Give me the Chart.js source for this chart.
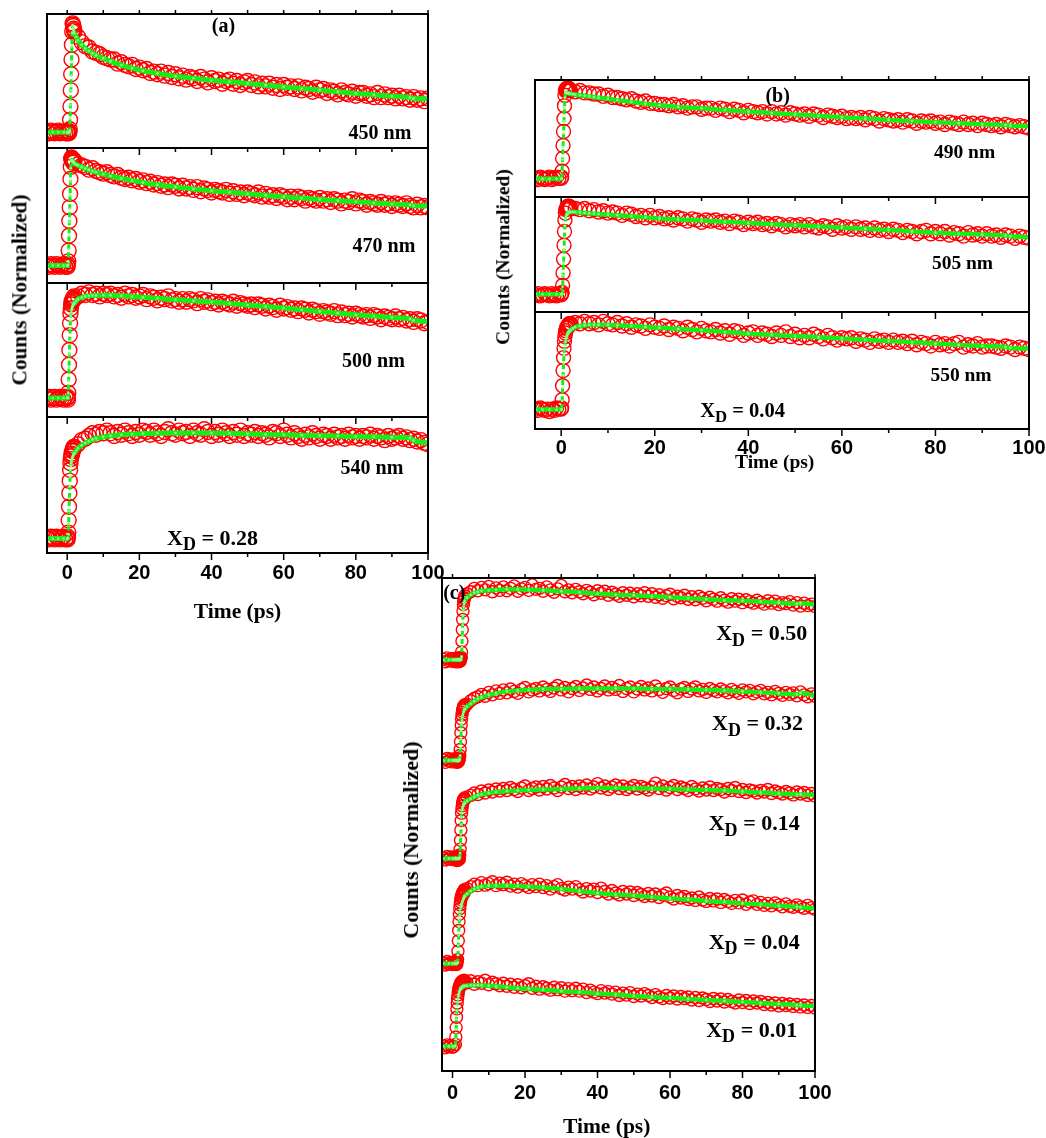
<!DOCTYPE html>
<html>
<head>
<meta charset="utf-8">
<title>Transient decays</title>
<script src="https://cdn.jsdelivr.net/npm/chart.js@4.4.1/dist/chart.umd.min.js"></script>
<style>
  body { margin: 0; background: #fff; }
  #page { position: relative; width: 1046px; height: 1138px; overflow: hidden; background: #fff; }
  #page canvas { position: absolute; z-index: 0; }
  .t { position: absolute; z-index: 1; transform: translate(-50%, -50%); font-family: "Liberation Serif", "Times New Roman", serif;
       font-weight: bold; line-height: 1; white-space: nowrap; color: #000; }
  .t .d { position: relative; top: 0.3em; font-size: 0.82em; }
  .t.rot { transform: translate(-50%, -50%) rotate(-90deg); }
</style>
</head>
<body>
<div id="page">
  <!-- panel (a) -->
  <div class="t" style="left:223.5px;top:25px;font-size:20px">(a)</div>
  <div class="t" style="left:380px;top:132px;font-size:20px">450 nm</div>
  <div class="t" style="left:384px;top:245px;font-size:20px">470 nm</div>
  <div class="t" style="left:373.5px;top:360px;font-size:20px">500 nm</div>
  <div class="t" style="left:372px;top:467px;font-size:20px">540 nm</div>
  <div class="t" style="left:212.5px;top:538px;font-size:22px">X<span class="d">D</span> = 0.28</div>
  <div class="t" style="left:237.5px;top:611.5px;font-size:21.5px">Time (ps)</div>
  <div class="t rot" style="left:20px;top:290px;font-size:21.3px">Counts (Normalized)</div>
  <!-- panel (b) -->
  <div class="t" style="left:777.7px;top:95px;font-size:20px">(b)</div>
  <div class="t" style="left:964.6px;top:151.7px;font-size:19.5px">490 nm</div>
  <div class="t" style="left:962.5px;top:263.3px;font-size:19.5px">505 nm</div>
  <div class="t" style="left:961px;top:375px;font-size:19.5px">550 nm</div>
  <div class="t" style="left:742.6px;top:410px;font-size:20.5px">X<span class="d">D</span> = 0.04</div>
  <div class="t" style="left:774.7px;top:462px;font-size:19.5px">Time (ps)</div>
  <div class="t rot" style="left:503px;top:256.7px;font-size:19.6px">Counts (Normalized)</div>
  <!-- panel (c) -->
  <div class="t" style="left:454.3px;top:592.3px;font-size:20px">(c)</div>
  <div class="t" style="left:761.7px;top:633.3px;font-size:22px">X<span class="d">D</span> = 0.50</div>
  <div class="t" style="left:757.5px;top:723.3px;font-size:22px">X<span class="d">D</span> = 0.32</div>
  <div class="t" style="left:754.2px;top:823.3px;font-size:22px">X<span class="d">D</span> = 0.14</div>
  <div class="t" style="left:754.2px;top:941.7px;font-size:22px">X<span class="d">D</span> = 0.04</div>
  <div class="t" style="left:751.7px;top:1030px;font-size:22px">X<span class="d">D</span> = 0.01</div>
  <div class="t" style="left:606.7px;top:1126.7px;font-size:21.5px">Time (ps)</div>
  <div class="t rot" style="left:411px;top:840px;font-size:22px">Counts (Normalized)</div>
</div>
<script>
// sample times (ps) for panels (a) and (b)
const timeAB = [
  -5.5, -5, -4.5, -4, -3.5, -3, -2.5, -2, -1.5, -1, -0.5,
  0, 0.1, 0.2, 0.3, 0.4, 0.5, 0.6, 0.7, 0.8, 0.9, 1, 1.1, 1.2, 1.3, 1.4, 1.5, 1.6, 1.7, 1.8, 1.9,
  2, 3, 4, 5, 6, 7, 8, 9, 10, 11,
  12, 13, 14, 15, 16, 17, 18, 19, 20, 21,
  22, 23, 24, 25, 26, 27, 28, 29, 30, 31,
  32, 33, 34, 35, 36, 37, 38, 39, 40, 41,
  42, 43, 44, 45, 46, 47, 48, 49, 50, 51,
  52, 53, 54, 55, 56, 57, 58, 59, 60, 61,
  62, 63, 64, 65, 66, 67, 68, 69, 70, 71,
  72, 73, 74, 75, 76, 77, 78, 79, 80, 81,
  82, 83, 84, 85, 86, 87, 88, 89, 90, 91,
  92, 93, 94, 95, 96, 97, 98, 99, 100
];
// times of the fitted curves for panels (a) and (b)
const fitTimeAB = [
  -5.5, -4, -2.5, -1,
  0, 0.1, 0.2, 0.3, 0.4, 0.5, 0.6, 0.7, 0.8, 0.9, 1, 1.1, 1.2, 1.3, 1.4, 1.5, 1.6, 1.7, 1.8, 1.9,
  2, 2.5, 3, 4, 5, 6, 7, 8, 10, 12, 15, 18, 21, 25,
  30, 35, 40, 45, 50, 55, 60, 65, 70, 75, 80, 85, 90, 95, 96, 100
];

// panel (a): measured counts, normalised to each sub-plot
const counts450 = [
  12, 11, 13, 12, 11, 12, 13, 11, 12, 12, 11,
  12, 11, 12, 13, 12, 11, 12, 14, 21, 31, 43, 55, 66, 77, 87, 93, 92, 91, 89, 88,
  87, 83, 79, 76, 75, 72, 71, 70, 68, 67,
  66, 66, 63, 64, 62, 61, 62, 59, 60, 58,
  59, 56, 57, 55, 57, 54, 56, 53, 55, 52,
  54, 51, 53, 52, 50, 53, 51, 49, 52, 50,
  51, 48, 50, 51, 48, 50, 47, 49, 50, 47,
  49, 46, 48, 46, 48, 45, 47, 44, 47, 45,
  46, 44, 46, 43, 45, 44, 42, 45, 43, 44,
  41, 43, 42, 40, 43, 41, 40, 42, 39, 41,
  41, 39, 40, 38, 41, 38, 40, 38, 39, 37,
  39, 37, 38, 36, 38, 36, 37, 35, 37
];
const counts470 = [
  13, 12, 14, 13, 12, 14, 13, 12, 13, 14, 12,
  13, 12, 14, 16, 24, 35, 46, 56, 66, 77, 86, 92, 93, 91, 92, 90, 91, 89, 90, 91,
  90, 88, 87, 86, 84, 85, 83, 82, 81, 82,
  80, 79, 80, 78, 77, 78, 76, 77, 75, 76,
  74, 75, 73, 74, 72, 73, 71, 73, 72, 70,
  72, 70, 71, 69, 71, 68, 70, 69, 67, 69,
  68, 67, 69, 66, 68, 66, 67, 65, 67, 66,
  65, 67, 64, 66, 64, 65, 63, 65, 64, 62,
  64, 62, 64, 63, 61, 63, 62, 61, 63, 61,
  62, 60, 62, 61, 59, 61, 60, 62, 59, 61,
  60, 58, 60, 59, 58, 60, 58, 59, 57, 59,
  58, 57, 59, 57, 56, 58, 56, 57, 56
];
const counts500 = [
  14, 15, 13, 14, 15, 13, 14, 15, 14, 13, 15,
  14, 15, 13, 18, 28, 39, 50, 61, 70, 77, 81, 84, 86, 85, 87, 88, 87, 89, 88, 90,
  88, 90, 92, 91, 93, 91, 92, 90, 92, 91,
  92, 90, 91, 89, 92, 90, 91, 89, 90, 91,
  88, 90, 89, 87, 89, 88, 90, 87, 88, 86,
  88, 86, 88, 87, 85, 88, 86, 87, 85, 86,
  84, 86, 85, 84, 86, 83, 85, 84, 83, 84,
  82, 84, 83, 81, 83, 82, 80, 83, 81, 82,
  80, 81, 79, 81, 80, 78, 80, 79, 77, 79,
  78, 77, 79, 76, 78, 76, 77, 75, 77, 76,
  75, 76, 74, 76, 75, 73, 75, 74, 73, 75,
  73, 74, 72, 73, 71, 73, 72, 70, 71
];
const counts540 = [
  11, 10, 12, 11, 10, 12, 11, 10, 11, 12, 10,
  11, 10, 12, 15, 24, 34, 44, 53, 61, 66, 69, 71, 73, 72, 75, 76, 75, 77, 78, 77,
  78, 80, 83, 84, 86, 88, 87, 89, 88, 90,
  88, 86, 89, 87, 90, 88, 86, 89, 87, 90,
  89, 87, 90, 88, 86, 89, 91, 88, 87, 90,
  88, 89, 86, 90, 88, 87, 91, 89, 86, 89,
  87, 90, 88, 86, 89, 87, 90, 86, 88, 87,
  89, 86, 88, 87, 85, 89, 88, 86, 90, 87,
  85, 88, 86, 84, 87, 85, 88, 86, 84, 87,
  86, 84, 87, 85, 86, 84, 87, 85, 86, 84,
  86, 85, 87, 84, 86, 85, 83, 86, 84, 85,
  86, 84, 85, 83, 84, 82, 83, 81, 80
];
// panel (a): fitted curves
const fit450 = [
  11.7, 11.7, 11.7, 11.7,
  11.7, 11.7, 11.7, 11.7, 11.7, 11.7, 11.8, 13, 22, 32, 43, 54, 65, 76, 86, 91.6, 90.6, 89.4, 88.2, 86.9,
  85.6, 83, 80.5, 77, 74.3, 72.4, 70.7, 69.3, 66.9, 64.8, 61.9, 59.6, 57.6, 55.7,
  53.6, 52, 50.6, 49.4, 48.2, 46.9, 45.6, 44.4, 43.2, 41.9, 40.7, 39.7, 38.7, 37.7, 37, 36.7
];
const fit470 = [
  13, 13, 13, 13,
  13, 13, 13.2, 16, 25, 35, 45, 55, 65, 75, 85, 90.5, 91, 90.8, 90.5, 90.2, 89.9, 89.6, 89.3, 88.9,
  88.5, 87.8, 87.2, 86, 84.8, 83.8, 82.9, 82.1, 80.6, 79.3, 77.5, 76, 74.5, 72.8,
  71.2, 69.7, 68.3, 67.2, 66.1, 65, 63.9, 62.9, 61.9, 61, 60.2, 59.3, 58.5, 57.8, 57.2, 57
];
const fit500 = [
  14.2, 14.2, 14.2, 14.2,
  14.2, 14.2, 14.5, 18, 27, 37, 47, 57, 66, 72, 75.5, 78, 79.6, 80.8, 81.8, 82.6, 83.3, 83.9, 84.4, 84.8,
  85, 86.6, 88, 89.2, 90, 90.4, 90.7, 90.8, 90.9, 90.8, 90.4, 89.9, 89.4, 88.6,
  87.5, 86.7, 85.8, 84.7, 83.6, 82.5, 81.3, 80, 78.8, 77.5, 76.3, 75.3, 74.3, 73.2, 72.2, 71.3
];
const fit540 = [
  10.6, 10.6, 10.6, 10.6,
  10.6, 10.6, 11, 14, 22, 31, 40, 49, 56, 61, 64, 66, 67.5, 68.7, 69.7, 70.6, 71.4, 72.1, 72.7, 73.1,
  73.4, 75.4, 77.1, 79.2, 80.8, 82.2, 83.4, 84.3, 85.4, 86.2, 87, 87.5, 87.8, 88.1,
  88.2, 88.3, 88.2, 88, 87.6, 87.2, 86.9, 86.6, 86.3, 86, 85.7, 85.4, 85.1, 84.6, 82.8, 80.8
];

// panel (b): measured counts
const counts490 = [
  16, 15, 17, 16, 15, 16, 17, 15, 16, 17, 16,
  16, 17, 22, 33, 44, 56, 67, 78, 87, 91, 92, 91, 93, 92, 91, 92, 93, 91, 92, 91,
  91, 90, 91, 89, 89, 88, 88, 86, 87, 85,
  85, 84, 83, 84, 82, 81, 82, 80, 80, 79,
  79, 78, 79, 77, 78, 76, 77, 77, 75, 76,
  76, 74, 76, 75, 73, 75, 74, 72, 74, 73,
  72, 73, 71, 73, 71, 72, 70, 72, 71, 70,
  71, 69, 71, 70, 68, 70, 69, 68, 69, 67,
  68, 67, 68, 66, 68, 67, 65, 67, 66, 65,
  66, 64, 66, 65, 63, 65, 64, 65, 63, 64,
  62, 64, 63, 62, 64, 62, 63, 61, 63, 62,
  61, 62, 60, 62, 61, 60, 61, 60, 59
];
const counts505 = [
  15, 16, 14, 15, 16, 15, 14, 16, 15, 14, 16,
  15, 16, 17, 23, 34, 46, 58, 70, 80, 86, 89, 90, 91, 90, 92, 91, 90, 92, 91, 90,
  91, 90, 89, 90, 88, 89, 87, 88, 86, 87,
  86, 84, 86, 85, 83, 84, 82, 84, 82, 83,
  81, 82, 80, 82, 81, 79, 81, 80, 78, 80,
  79, 80, 78, 79, 77, 79, 78, 76, 78, 77,
  78, 76, 77, 75, 77, 76, 74, 76, 75, 76,
  74, 76, 74, 73, 75, 74, 72, 75, 73, 74,
  72, 74, 72, 73, 71, 73, 71, 72, 70, 72,
  71, 69, 71, 70, 68, 70, 71, 68, 70, 68,
  70, 67, 69, 68, 66, 69, 67, 68, 66, 68,
  66, 67, 65, 67, 66, 64, 66, 65, 64
];
const counts550 = [
  17, 16, 18, 17, 16, 17, 15, 17, 16, 18, 17,
  17, 18, 25, 37, 50, 61, 69, 75, 79, 82, 84, 86, 87, 86, 88, 89, 88, 90, 89, 90,
  90, 91, 90, 92, 90, 91, 89, 92, 90, 89,
  91, 88, 90, 87, 89, 88, 86, 89, 87, 86,
  88, 85, 87, 86, 84, 87, 85, 83, 86, 84,
  83, 85, 82, 84, 81, 84, 83, 80, 82, 83,
  80, 82, 81, 79, 82, 80, 83, 79, 81, 78,
  80, 78, 81, 79, 77, 80, 78, 76, 78, 77,
  78, 75, 77, 76, 74, 77, 75, 76, 74, 76,
  74, 75, 73, 75, 72, 74, 73, 71, 74, 72,
  73, 71, 73, 74, 70, 72, 71, 73, 70, 71,
  71, 70, 69, 71, 70, 68, 70, 69, 68
];
// panel (b): fitted curves
const fit490 = [
  15.5, 15.5, 15.5, 15.5,
  15.5, 16, 22, 32, 43, 54, 65, 76, 85, 89.2, 89.1, 89, 88.9, 88.9, 88.8, 88.7, 88.6, 88.5, 88.4, 88.3,
  88.2, 87.9, 87.6, 87, 86.5, 86, 85.4, 84.9, 83.9, 82.8, 81.3, 79.8, 78.4, 77,
  75.8, 74.3, 73, 71.8, 70.6, 69.4, 68.2, 67, 65.9, 64.9, 63.9, 63, 62.2, 61.5, 61, 60.7
];
const fit505 = [
  15.4, 15.4, 15.4, 15.4,
  15.4, 15.4, 16, 22, 32, 43, 54, 65, 75, 81, 83, 84, 84.7, 85.3, 85.8, 86.2, 86.5, 86.7, 86.9, 87,
  87, 87.1, 87, 86.6, 86.1, 85.8, 85.5, 85.2, 84.7, 84.1, 83.2, 82.3, 81.4, 80.4,
  79.5, 78.4, 77.4, 76.4, 75.4, 74.4, 73.4, 72.3, 71.3, 70.1, 69, 68.1, 67.3, 66.6, 65.8, 65.2
];
const fit550 = [
  16.6, 16.6, 16.6, 16.6,
  16.6, 17, 24, 35, 46, 56, 63, 68, 71.5, 74.5, 77, 78.5, 79.7, 80.7, 81.5, 82.2, 82.8, 83.4, 83.9, 84.2,
  84.4, 86, 87.2, 88.1, 88.6, 89, 89.1, 89.2, 89, 88.6, 88, 87.2, 86.5, 85.5,
  84.4, 83, 81.5, 80.5, 79.5, 78.4, 77.3, 76.2, 75.2, 74.1, 73, 71.9, 70.9, 70, 69.3, 68.7
];

// panel (c): sample times (ps)
const timeC = [
  -2.5, -2, -1.5, -1, -0.5, 0, 0.4,
  0.8, 0.9, 1, 1.1, 1.2, 1.3, 1.4, 1.5, 1.6, 1.7, 1.8, 1.9, 2, 2.1, 2.2, 2.3, 2.4,
  2.5, 2.6, 2.7, 2.8, 2.9, 3, 3.1, 3.2, 3.3, 3.4,
  4, 5, 6, 7, 8, 9, 10, 11, 12, 13,
  14, 15, 16, 17, 18, 19, 20, 21, 22, 23,
  24, 25, 26, 27, 28, 29, 30, 31, 32, 33,
  34, 35, 36, 37, 38, 39, 40, 41, 42, 43,
  44, 45, 46, 47, 48, 49, 50, 51, 52, 53,
  54, 55, 56, 57, 58, 59, 60, 61, 62, 63,
  64, 65, 66, 67, 68, 69, 70, 71, 72, 73,
  74, 75, 76, 77, 78, 79, 80, 81, 82, 83,
  84, 85, 86, 87, 88, 89, 90, 91, 92, 93,
  94, 95, 96, 97, 98, 99, 100
];
const fitTimeC = [
  -2.5, -1, 0, 0.4,
  0.8, 0.9, 1, 1.1, 1.2, 1.3, 1.4, 1.5, 1.6, 1.7, 1.8, 1.9, 2, 2.1, 2.2, 2.3, 2.4,
  2.5, 2.6, 2.7, 2.8, 2.9, 3, 3.1, 3.2, 3.3, 3.4,
  4, 5, 6, 7, 8, 10, 12, 15, 18, 21, 25,
  30, 35, 40, 45, 50, 55, 60, 65, 70, 75, 80, 85, 90, 95, 96, 100
];
const mixLabels = ["0.50", "0.32", "0.14", "0.04", "0.01"];
// panel (c): measured counts, stacked in one frame (top trace first)
const countsXD050 = [
  83.5, 83.0, 83.8, 83.2, 83.6, 83.1, 83.7,
  83.4, 83.0, 83.7, 83.2, 83.5, 83.1, 83.8, 83.3, 83.0, 83.6, 83.2, 83.5, 83.8, 83.1, 83.4, 83.7, 83.9,
  85.0, 87.2, 89.5, 91.6, 93.3, 94.6, 95.3, 95.8, 96.0, 96.4,
  96.8, 97.2, 97.9, 97.4, 98.1, 97.6, 98.3, 97.2, 98.0, 97.5,
  98.2, 97.4, 97.9, 98.4, 97.3, 97.8, 98.1, 97.5, 98.6, 97.7,
  97.9, 97.3, 98.2, 97.6, 97.1, 97.8, 98.5, 97.2, 97.6, 97.0,
  97.7, 97.2, 96.8, 97.5, 97.1, 96.6, 97.4, 96.9, 97.3, 96.5,
  97.1, 96.7, 96.3, 97.0, 96.5, 96.9, 96.2, 96.8, 96.4, 97.0,
  96.3, 96.8, 96.1, 96.6, 95.9, 96.4, 96.7, 95.8, 96.3, 96.0,
  96.5, 95.7, 96.2, 95.6, 96.3, 95.9, 95.4, 96.1, 95.7, 95.3,
  96.0, 95.5, 95.1, 95.8, 95.3, 95.7, 95.0, 95.6, 95.2, 94.9,
  95.5, 95.1, 94.7, 95.4, 94.9, 95.3, 94.6, 95.0, 94.8, 95.2,
  94.5, 95.0, 94.3, 94.9, 94.4, 94.7, 94.2
];
const countsXD032 = [
  63.1, 62.6, 63.4, 62.9, 63.3, 62.7, 63.2,
  63.0, 63.4, 62.8, 63.2, 62.6, 63.3, 63.1, 62.7, 63.4, 62.9, 63.2, 63.5,
  64.0, 65.2, 66.8, 68.6, 70.2, 71.4, 72.2, 72.8, 73.2, 73.4, 73.9, 73.6, 74.1, 73.8, 74.3,
  74.4, 75.1, 75.6, 75.9, 76.4, 76.0, 76.8, 76.3, 77.1, 76.6,
  77.3, 76.7, 77.5, 77.0, 76.6, 77.4, 77.8, 76.9, 77.3, 77.6,
  77.1, 77.9, 77.4, 77.0, 77.7, 78.2, 77.3, 77.8, 76.9, 77.6,
  78.0, 77.2, 77.7, 78.3, 77.4, 77.9, 77.1, 77.6, 78.1, 77.3,
  77.8, 77.4, 78.2, 77.0, 77.6, 77.9, 76.9, 77.5, 78.0, 77.3,
  77.7, 77.1, 78.1, 77.4, 76.8, 77.6, 77.9, 77.2, 76.7, 77.5,
  77.8, 77.0, 77.5, 77.9, 77.1, 77.4, 76.8, 77.6, 77.2, 76.9,
  77.5, 77.1, 76.7, 77.4, 77.0, 76.6, 77.3, 76.9, 77.2, 76.5,
  76.9, 77.2, 76.5, 76.8, 76.3, 77.0, 76.6, 76.2, 76.8, 76.4,
  76.7, 76.1, 76.9, 76.3, 75.9, 76.5, 76.0
];
const countsXD014 = [
  43.2, 42.8, 43.5, 43.0, 43.4, 42.9, 43.3,
  43.1, 43.5, 42.9, 43.3, 42.7, 43.4, 43.0, 43.6, 42.8, 43.2, 43.5, 43.0,
  43.8, 45.0, 46.8, 48.9, 50.8, 52.3, 53.2, 53.8, 54.3, 54.6, 54.9, 55.1, 55.0, 55.4, 55.2,
  55.6, 55.9, 56.4, 56.1, 56.8, 56.4, 57.0, 56.6, 57.2, 56.8,
  57.3, 56.9, 57.5, 57.1, 56.7, 57.4, 57.8, 56.9, 57.3, 57.6,
  57.0, 57.7, 57.2, 57.9, 57.4, 56.9, 57.6, 58.1, 57.3, 57.7,
  57.1, 57.8, 57.4, 58.0, 57.2, 57.6, 58.3, 57.4, 57.8, 57.1,
  57.6, 58.0, 57.3, 57.8, 57.1, 57.5, 57.9, 57.2, 57.7, 57.4,
  57.0, 57.6, 58.4, 57.3, 57.8, 57.0, 57.5, 57.9, 57.1, 57.6,
  57.3, 56.9, 57.7, 57.2, 56.8, 57.4, 57.0, 57.6, 56.9, 57.3,
  57.1, 56.6, 57.3, 56.9, 57.5, 56.7, 57.1, 56.5, 57.0, 56.8,
  56.4, 56.9, 56.6, 57.1, 56.3, 56.8, 56.5, 56.2, 56.7, 56.4,
  56.0, 56.6, 56.2, 56.5, 55.9, 56.3, 55.8
];
const countsXD004 = [
  21.9, 21.5, 22.2, 21.7, 22.0, 21.6, 22.1,
  21.8, 22.2, 21.6, 22.0, 21.7, 22.3,
  22.6, 24.3, 26.4, 28.5, 30.3, 31.8, 32.9, 33.7, 34.3, 34.8, 35.2, 35.6, 35.4, 35.9, 36.2, 35.8, 36.4, 36.1, 36.7, 36.3, 36.8,
  37.0, 37.4, 37.9, 37.6, 38.2, 37.7, 38.0, 38.4, 37.6, 38.1,
  37.8, 38.3, 37.5, 37.9, 37.3, 38.0, 37.6, 37.2, 37.8, 37.4,
  37.9, 37.2, 37.6, 36.9, 37.4, 37.8, 37.0, 36.7, 37.3, 36.9,
  37.4, 36.8, 36.3, 37.0, 36.5, 36.9, 36.2, 37.1, 36.4, 35.9,
  36.6, 36.1, 35.7, 36.4, 35.9, 36.3, 35.6, 36.2, 35.8, 35.4,
  36.0, 35.5, 35.9, 35.2, 35.7, 36.1, 35.3, 34.9, 35.6, 35.1,
  35.4, 34.8, 35.1, 34.6, 35.3, 34.7, 34.4, 35.0, 34.5, 34.9,
  34.2, 34.8, 34.4, 34.0, 34.6, 34.1, 34.7, 33.8, 34.3, 34.5,
  33.8, 34.2, 33.6, 34.0, 33.5, 34.1, 33.7, 33.3, 33.9, 33.4,
  33.2, 33.7, 33.3, 33.0, 33.6, 33.1, 32.8
];
const countsXD001 = [
  5.1, 4.7, 5.3, 4.9, 5.2, 4.8, 5.0,
  5.4, 6.9, 8.8, 10.9, 12.6, 13.8, 14.7, 15.4, 16.0, 16.4, 16.8, 17.2, 17.0, 17.5,
  17.8, 17.4, 17.9, 18.1, 17.6, 18.2, 17.9, 18.3, 17.8, 18.1, 18.4, 17.9, 18.2,
  17.9, 18.3, 17.6, 18.1, 17.8, 18.4, 17.5, 18.0, 17.7, 17.3,
  17.8, 17.2, 17.6, 17.0, 17.5, 16.9, 17.3, 17.7, 16.8, 17.2,
  16.6, 17.1, 16.8, 16.4, 17.0, 16.5, 16.9, 16.2, 16.7, 16.3,
  16.8, 16.2, 16.6, 15.9, 16.4, 16.0, 15.7, 16.3, 15.8, 16.1,
  15.6, 16.0, 15.3, 15.8, 15.4, 15.9, 15.1, 15.6, 15.2, 15.7,
  15.3, 14.9, 15.5, 15.0, 14.7, 15.3, 14.8, 15.2, 14.6, 15.1,
  14.7, 15.0, 14.4, 14.9, 14.3, 14.8, 14.5, 14.1, 14.7, 14.2,
  14.6, 14.0, 14.5, 14.1, 13.8, 14.4, 13.9, 14.3, 13.7, 14.2,
  13.8, 14.1, 13.5, 13.9, 13.4, 13.8, 13.2, 13.7, 13.3, 13.6,
  13.1, 13.5, 13.0, 13.4, 12.9, 13.3, 12.8
];
// panel (c): fitted curves
const fitXD050 = [
  83.4, 83.4, 83.4, 83.4,
  83.4, 83.4, 83.4, 83.4, 83.4, 83.4, 83.4, 83.4, 83.4, 83.4, 83.4, 83.4, 83.4, 83.4, 83.4, 83.4, 83.4,
  84, 86, 88.3, 90.5, 92.3, 93.5, 94.2, 94.7, 95.1, 95.4,
  96, 96.6, 97, 97.2, 97.4, 97.5, 97.6, 97.7, 97.7, 97.6, 97.5,
  97.3, 97.1, 96.8, 96.6, 96.5, 96.3, 96.1, 95.9, 95.7, 95.5, 95.4, 95.2, 95, 94.8, 94.9, 94.6
];
const fitXD032 = [
  63, 63, 63, 63,
  63, 63, 63, 63, 63, 63, 63, 63, 63, 63, 63, 63, 63.2, 64, 65.5, 67.3, 69,
  70.3, 71.1, 71.7, 72.1, 72.4, 72.7, 72.9, 73.1, 73.3, 73.4,
  73.9, 74.5, 75, 75.5, 75.8, 76.3, 76.6, 77, 77.2, 77.3, 77.5,
  77.5, 77.6, 77.6, 77.6, 77.6, 77.5, 77.5, 77.4, 77.3, 77.2, 77, 76.8, 76.6, 76.4, 76.7, 76.1
];
const fitXD014 = [
  43.1, 43.1, 43.1, 43.1,
  43.1, 43.1, 43.1, 43.1, 43.1, 43.1, 43.1, 43.1, 43.1, 43.1, 43.1, 43.1, 43.3, 44.2, 46, 48, 50,
  51.5, 52.4, 53, 53.4, 53.7, 53.9, 54.1, 54.2, 54.3, 54.4,
  54.8, 55.2, 55.6, 55.9, 56.1, 56.4, 56.6, 56.8, 56.9, 57, 57.1,
  57.2, 57.3, 57.4, 57.4, 57.3, 57.3, 57.2, 57.1, 57, 56.9, 56.7, 56.5, 56.3, 56.1, 56.1, 56
];
const fitXD004 = [
  21.8, 21.8, 21.8, 21.8,
  21.8, 21.8, 21.8, 21.8, 21.8, 21.8, 22, 23.5, 25.5, 27.5, 29.3, 30.7, 31.6, 32.3, 32.8, 33.2, 33.5,
  33.8, 34.1, 34.3, 34.5, 34.7, 34.9, 35.1, 35.2, 35.4, 35.5,
  35.9, 36.5, 36.9, 37.2, 37.4, 37.6, 37.6, 37.6, 37.5, 37.4, 37.2,
  36.9, 36.5, 36.1, 35.8, 35.6, 35.3, 35, 34.8, 34.5, 34.3, 34, 33.8, 33.5, 33.3, 33.2, 33
];
const fitXD001 = [
  5, 5, 5, 5,
  5.1, 6.5, 8.5, 10.5, 12.2, 13.3, 14, 14.6, 15.1, 15.5, 15.8, 16.1, 16.3, 16.5, 16.6, 16.7, 16.8,
  16.9, 17, 17, 17.1, 17.1, 17.2, 17.2, 17.2, 17.3, 17.3,
  17.3, 17.4, 17.4, 17.4, 17.4, 17.3, 17.2, 17, 16.8, 16.7, 16.5,
  16.2, 16, 15.7, 15.5, 15.2, 15, 14.8, 14.6, 14.4, 14.2, 14, 13.8, 13.6, 13.4, 13.3, 13.2
];

const tickValues = [0, 20, 40, 60, 80, 100];

const page = document.getElementById("page");

function points(times, values, name) {
    if (times.length !== values.length) {
        console.error(name + ": " + times.length + " times, " + values.length + " values");
    }
    const n = Math.min(times.length, values.length);
    const pts = [];
    for (let i = 0; i < n; i++) pts.push({ x: times[i], y: values[i] });
    return pts;
}

// open red circles for the measured counts
function countsSet(times, values, r, name) {
    return {
        data: points(times, values, name),
        showLine: false,
        pointStyle: "circle",
        pointRadius: r,
        pointBorderWidth: 1.4,
        pointBorderColor: "#ff0000",
        pointBackgroundColor: "rgba(255,255,255,0)",
        borderColor: "#ff0000",
        clip: 0,
        order: 2
    };
}

// the rising edge is drawn dashed and thinner
const steep = ctx => Math.abs(ctx.p1.y - ctx.p0.y) > 2 * Math.abs(ctx.p1.x - ctx.p0.x);

// green fit line with small light dots
function fitSet(times, values, w, name) {
    return {
        data: points(times, values, name),
        borderColor: "#14ee14",
        borderWidth: w,
        pointRadius: 1.3,
        pointBorderWidth: 0,
        pointBackgroundColor: "#8cff8c",
        cubicInterpolationMode: "monotone",
        fill: false,
        clip: 0,
        order: 1,
        segment: {
            borderDash: ctx => steep(ctx) ? [5, 3] : undefined,
            borderWidth: ctx => steep(ctx) ? 3 : undefined
        }
    };
}

// frame and tick marks of each sub-plot
const framePlugin = {
    id: "frame",
    afterDatasetsDraw(chart, args, opts) {
        const { ctx, chartArea: a } = chart;
        const x = chart.scales.x;
        ctx.save();
        ctx.strokeStyle = "#000";
        ctx.lineWidth = 1.5;
        ctx.beginPath();
        for (let v = 0; v <= 100; v += 10) {
            const px = x.getPixelForValue(v);
            const len = v % 20 === 0 ? 7 : 4;
            ctx.moveTo(px, a.bottom);
            ctx.lineTo(px, a.bottom + len);
            if (opts.topTicks) {
                ctx.moveTo(px, a.top);
                ctx.lineTo(px, a.top - 4);
            }
        }
        ctx.stroke();
        ctx.lineWidth = 2;
        ctx.strokeRect(a.left, a.top, a.right - a.left, a.bottom - a.top);
        ctx.restore();
    }
};

const SIDE = 40;
const PAD_TOP = 10;

function subplot(cfg) {
    const [x0, y0, x1, y1] = cfg.box;
    const axisH = cfg.axis ? 44 : 0;
    const padBottom = cfg.axis ? 0 : 12;
    const canvas = document.createElement("canvas");
    canvas.width = x1 - x0 + 2 * SIDE;
    canvas.height = y1 - y0 + PAD_TOP + padBottom + axisH;
    canvas.style.left = (x0 - SIDE) + "px";
    canvas.style.top = (y0 - PAD_TOP) + "px";
    page.appendChild(canvas);

    return new Chart(canvas, {
        type: "line",
        data: { datasets: cfg.datasets },
        plugins: [framePlugin],
        options: {
            responsive: false,
            animation: false,
            devicePixelRatio: 1,
            events: [],
            layout: { padding: { left: SIDE, right: SIDE, top: PAD_TOP, bottom: padBottom } },
            plugins: {
                legend: { display: false },
                tooltip: { enabled: false },
                frame: { topTicks: !!cfg.topTicks }
            },
            scales: {
                x: {
                    type: "linear",
                    min: cfg.xMin,
                    max: 100,
                    display: !!cfg.axis,
                    afterBuildTicks: s => { s.ticks = tickValues.map(v => ({ value: v })); },
                    afterFit: s => { s.height = axisH; },
                    grid: { display: false, drawTicks: false },
                    border: { display: false },
                    ticks: {
                        padding: cfg.tickPad || 9,
                        color: "#000",
                        maxRotation: 0,
                        autoSkip: false,
                        font: { family: "'Liberation Sans', Arial, sans-serif", size: 20, weight: "bold" }
                    }
                },
                y: { display: false, min: 0, max: 100 }
            }
        }
    });
}

// panel (a)
subplot({ box: [47, 14, 428, 148], xMin: -5.6, topTicks: true,
    datasets: [countsSet(timeAB, counts450, 7.5, "450"), fitSet(fitTimeAB, fit450, 5, "fit450")] });
subplot({ box: [47, 148, 428, 283], xMin: -5.6,
    datasets: [countsSet(timeAB, counts470, 7.5, "470"), fitSet(fitTimeAB, fit470, 5, "fit470")] });
subplot({ box: [47, 283, 428, 417], xMin: -5.6,
    datasets: [countsSet(timeAB, counts500, 7.5, "500"), fitSet(fitTimeAB, fit500, 5, "fit500")] });
subplot({ box: [47, 417, 428, 553], xMin: -5.6, axis: true, tickPad: 8,
    datasets: [countsSet(timeAB, counts540, 7.5, "540"), fitSet(fitTimeAB, fit540, 5, "fit540")] });

// panel (b)
subplot({ box: [535, 80, 1029, 197], xMin: -5.6, topTicks: true,
    datasets: [countsSet(timeAB, counts490, 7, "490"), fitSet(fitTimeAB, fit490, 4.5, "fit490")] });
subplot({ box: [535, 197, 1029, 312], xMin: -5.6,
    datasets: [countsSet(timeAB, counts505, 7, "505"), fitSet(fitTimeAB, fit505, 4.5, "fit505")] });
subplot({ box: [535, 312, 1029, 429], xMin: -5.6, axis: true, tickPad: 7,
    datasets: [countsSet(timeAB, counts550, 7, "550"), fitSet(fitTimeAB, fit550, 4.5, "fit550")] });

// panel (c): all mixtures in one frame
const countsC = [countsXD050, countsXD032, countsXD014, countsXD004, countsXD001];
const fitsC = [fitXD050, fitXD032, fitXD014, fitXD004, fitXD001];
const setsC = [];
mixLabels.forEach((m, i) => {
    setsC.push(countsSet(timeC, countsC[i], 6, "XD " + m));
    setsC.push(fitSet(fitTimeC, fitsC[i], 4.5, "fit XD " + m));
});
subplot({ box: [442, 578, 815, 1071], xMin: -2.9, topTicks: true, axis: true, tickPad: 10.5,
    datasets: setsC });
</script>
</body>
</html>
